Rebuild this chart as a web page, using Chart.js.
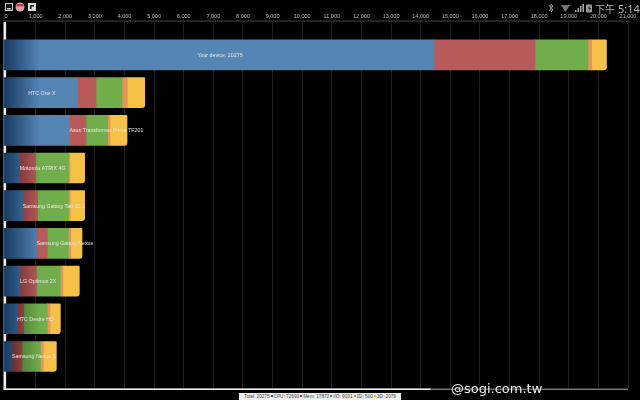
<!DOCTYPE html>
<html>
<head>
<meta charset="utf-8">
<script src="https://cdn.jsdelivr.net/npm/chart.js@4"></script>
<style>
  html, body { margin: 0; background: #000; overflow: hidden; }
  #wrap { position: relative; width: 640px; height: 400px; }
  #wrap div, #wrap svg { position: absolute; }
  #clock { left: 595px; top: 1px; line-height: 14px; font-family: "Noto Sans CJK TC", sans-serif; font-size: 10px; color: #b8b8b8; white-space: nowrap; }
  #clock span { font: 11px "Noto Sans", sans-serif; margin-left: 3px; }
  #mark { left: 451px; top: 381px; font: 13px "DejaVu Sans", sans-serif; color: #eee; white-space: nowrap; text-shadow: 0 0 2px #000; }
  #totals { left: 239px; top: 393px; width: 162px; height: 7px; background: #eee; font: 4.7px/7px "Liberation Sans", sans-serif; color: #444; text-align: center; white-space: nowrap; }
  #totals i { display: inline-block; width: 2px; height: 2px; margin: 0 1px 1px; }
</style>
</head>
<body>
<div id="wrap">
  <canvas id="quadrant" width="640" height="400"></canvas>

  <svg style="left:4px;top:2px" width="34" height="10" viewBox="0 0 34 10">
    <rect x="1.5" y="1.5" width="7" height="7" fill="#111" stroke="#ccc"/>
    <rect x="3" y="6" width="4" height="1.5" fill="#ccc"/>
    <circle cx="16" cy="5" r="4.5" fill="#d9a0a8"/>
    <rect x="12.5" y="2" width="7" height="2.5" fill="#c04050"/>
    <rect x="24" y="1" width="8" height="8" fill="#ddd"/>
    <path d="M26 7V3h4v1.5h-2.5V7z" fill="#111"/>
  </svg>

  <svg style="left:547px;top:2px" width="46" height="12" viewBox="0 0 46 12">
    <path d="M2 3l4 5-2 2V2l2 2-4 5" fill="none" stroke="#999" stroke-width="1"/>
    <path d="M14 3h9l-4.500 7z" fill="#777"/>
    <path d="M28 10h1.500V8H28zM30.500 10H32V6h-1.500zM33 10h1.500V4H33zM35.500 10H37V2h-1.500z" fill="#aaa"/>
    <rect x="39" y="2.500" width="6" height="8" rx="1" fill="#999"/>
    <path d="M42.500 3.500l-1.500 3h1.500l-1 3 2.500-3.500h-1.500z" fill="#111"/>
  </svg>

  <div id="clock">下午<span>5:14</span></div>
  <div id="mark">@sogi.com.tw</div>
  <div id="totals">Total: 20275<i style="background:#2f5f9a"></i>CPU: 72693<i style="background:#a02020"></i>Mem: 17872<i style="background:#3f8f2f"></i>I/O: 9031<i style="background:#d07020"></i>2D: 500<i style="background:#d8c020"></i>3D: 2079</div>
</div>

<script>
const devices = ['Your device: 20275', 'HTC One X', 'Asus Transformer Prime TF201', 'Motorola ATRIX 4G',
  'Samsung Galaxy Tab 10.1', 'Samsung Galaxy Nexus', 'LG Optimus 2X', 'HTC Desire HD', 'Samsung Nexus S'];

// scores, one list per coloured segment
const cpu = [14450, 2420, 2140, 462, 563, 1025, 473, 371, 203];
const mem = [3410, 620, 560, 538, 507, 370, 552, 229, 337];
const io = [1790, 876, 733, 1105, 1035, 710, 810, 795, 620];
const g2d = [125, 179, 77, 55, 65, 80, 90, 90, 100];
const g3d = [500, 588, 575, 495, 485, 381, 550, 350, 440];

const xTickValues = [0, 1000, 2000, 3000, 4000, 5000, 6000, 7000, 8000, 9000, 10000,
  11000, 12000, 13000, 14000, 15000, 16000, 17000, 18000, 19000, 20000, 21000];

// normal colour plus the darker one the bars fade from at their left end
const shaded = (dark, normal) => ctx => {
  const area = ctx.chart.chartArea;
  if (!area) return normal;
  const g = ctx.chart.ctx.createLinearGradient(6, 0, 40, 0);
  g.addColorStop(0, dark);
  g.addColorStop(1, normal);
  return g;
};

const toPoints = list => list.map((v, i) => ({ x: v, y: i }));

// white left axis and the bottom axis that turns grey past the middle
const axisLines = {
  id: 'axisLines',
  beforeDatasetsDraw(chart) {
    const c = chart.ctx, a = chart.chartArea;
    c.save();
    c.fillStyle = '#eee';
    c.fillRect(3.5, a.top + 1, 2.5, a.bottom - a.top);
    c.fillStyle = '#777';
    c.fillRect(3.5, a.bottom, a.right - 3.5, 1.5);
    c.fillStyle = '#eee';
    c.fillRect(3.5, a.bottom, 427, 1.5);
    c.restore();
  }
};

// device name sits centred on the blue part, or starts where blue ends if too long
const deviceLabels = {
  id: 'deviceLabels',
  afterDatasetsDraw(chart) {
    const c = chart.ctx;
    const bars = chart.getDatasetMeta(0).data;
    c.save();
    c.font = '5.3px "Liberation Sans", sans-serif';
    c.fillStyle = '#e8e8e8';
    c.textBaseline = 'middle';
    bars.forEach((bar, i) => {
      const w = c.measureText(devices[i]).width;
      const room = bar.x - 6;
      const left = w < room ? 6 + (room - w) / 2 : bar.x;
      c.fillText(devices[i], left, bar.y + 0.5);
    });
    c.restore();
  }
};

new Chart(document.getElementById('quadrant'), {
  type: 'bar',
  data: {
    datasets: [
      { data: toPoints(cpu), base: -85, backgroundColor: shaded('#1b3f66', '#5585b5') },
      { data: toPoints(mem), backgroundColor: shaded('#5e2428', '#b85a5a') },
      { data: toPoints(io), backgroundColor: shaded('#3a6028', '#6fae4b') },
      { data: toPoints(g2d), backgroundColor: '#e5955a' },
      { data: toPoints(g3d), backgroundColor: '#f5c148', borderRadius: { topRight: 1, bottomRight: 3 } }
    ]
  },
  options: {
    indexAxis: 'y',
    responsive: false,
    animation: false,
    barThickness: 30,
    layout: { padding: { left: 3.5, right: 12, top: 0, bottom: 11.5 } },
    plugins: { legend: { display: false }, tooltip: { enabled: false } },
    scales: {
      x: {
        position: 'top',
        stacked: true,
        min: -85,
        max: 21000,
        afterBuildTicks: s => { s.ticks = xTickValues.map(value => ({ value })); },
        afterFit: s => { s.height = 21; },
        grid: { color: '#1e1e1e', lineWidth: 1, drawTicks: false },
        border: { color: '#242424', width: 2 },
        ticks: {
          maxRotation: 0,
          autoSkip: false,
          padding: 1,
          color: '#bbb',
          font: { family: '"Liberation Sans", sans-serif', size: 5.5 },
          callback: v => v.toLocaleString('en-US')
        }
      },
      y: { type: 'linear', display: false, reverse: true, stacked: true, offset: false, min: -0.9, max: 8.85 }
    }
  },
  plugins: [axisLines, deviceLabels]
});
</script>
</body>
</html>
